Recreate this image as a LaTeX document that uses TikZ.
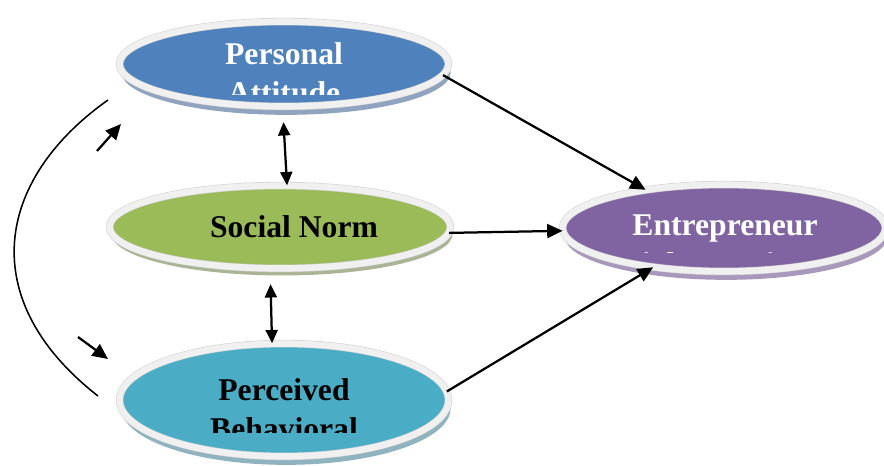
\documentclass[tikz,border=0pt]{standalone}
\usepackage{fontspec}
\setmainfont{Liberation Serif}
\usetikzlibrary{shapes.geometric,arrows.meta,shadows}

\definecolor{attblue}{HTML}{4F81BD}
\definecolor{normgreen}{HTML}{9BBB59}
\definecolor{pbcteal}{HTML}{4BACC6}
\definecolor{entpurple}{HTML}{8064A2}
\definecolor{attshade}{HTML}{90A3BF}
\definecolor{normshade}{HTML}{A9B594}
\definecolor{pbcshade}{HTML}{8FB4BF}
\definecolor{entshade}{HTML}{A898BC}

\begin{document}
\begin{tikzpicture}
   [x=0.025cm,y=-0.025cm,
    blob/.style={ellipse, inner sep=0pt, draw=black!18, double=black!6, double distance=4.5pt, line width=0.4pt},
    lbl/.style={font=\fontsize{22.5}{26}\selectfont\bfseries, inner sep=0pt, anchor=base},
    link/.style={line width=1.6pt, -{Triangle[length=11pt,width=10pt]}},
    both/.style={line width=1.6pt, {Triangle[length=9.5pt,width=8.5pt]}-{Triangle[length=9.5pt,width=8.5pt]}}]

  \useasboundingbox (0,0) rectangle (884,466);

  \node[blob, fill=attblue, general shadow={fill=attshade, shadow xshift=1.5pt, shadow yshift=-6pt},
        minimum width=8.22cm, minimum height=2.12cm] (pa) at (284,64) {};
  \node[blob, fill=normgreen, general shadow={fill=normshade, shadow xshift=1.5pt, shadow yshift=-5pt},
        minimum width=8.52cm, minimum height=2.07cm] (sn) at (280,227) {};
  \node[blob, fill=pbcteal, general shadow={fill=pbcshade, shadow xshift=1.5pt, shadow yshift=-6pt},
        minimum width=8.22cm, minimum height=2.82cm] (pbc) at (284,400) {};
  \node[blob, fill=entpurple, general shadow={fill=entshade, shadow xshift=1.5pt, shadow yshift=-6pt},
        minimum width=8.07cm, minimum height=2.17cm] (ei) at (724,228) {};

  % labels, cut off at the bottom as in the figure
  \begin{scope}
    \clip (100,0) rectangle (470,95);
    \node[lbl, text=white] (pa1) at (284,65)  {Personal};
    \node[lbl, text=white] (pa2) at (284,104) {Attitude};
  \end{scope}
  \node[lbl] (sn1) at (294,238) {Social Norm};
  \begin{scope}
    \clip (100,360) rectangle (470,432);
    \node[lbl] (pbc1) at (284,400) {Perceived};
    \node[lbl] (pbc2) at (284,439) {Behavioral};
  \end{scope}
  \begin{scope}
    \clip (560,190) rectangle (884,252);
    \node[lbl, text=white] (ei1) at (725,235) {Entrepreneur};
    \node[lbl, text=white] (ei2) at (725,274) {ial Intention};
  \end{scope}

  \foreach \from/\to in {pa.-4/ei.154, sn.-2/ei.181, pbc.3/ei.209}
    \draw[link] (\from) -- (\to);

  \draw[both, shorten <=11pt] ([xshift=-1pt]pa.south) -- ([xshift=5pt]sn.north);
  \draw[both, shorten <=11pt] ([xshift=-7pt]sn.south) -- ([xshift=-8.5pt]pbc.north);

  \coordinate (ctop) at (108,100);
  \coordinate (cbot) at (98,396);
  \coordinate (u1) at (97,151);
  \coordinate (u2) at (121,124);
  \coordinate (d1) at (78,337);
  \coordinate (d2) at (108,359);

  \draw[line width=1.1pt] (ctop) .. controls (-5,180) and (-25,300) .. (cbot);
  \draw[link] (u1) -- (u2);
  \draw[link] (d1) -- (d2);

\end{tikzpicture}
\end{document}
